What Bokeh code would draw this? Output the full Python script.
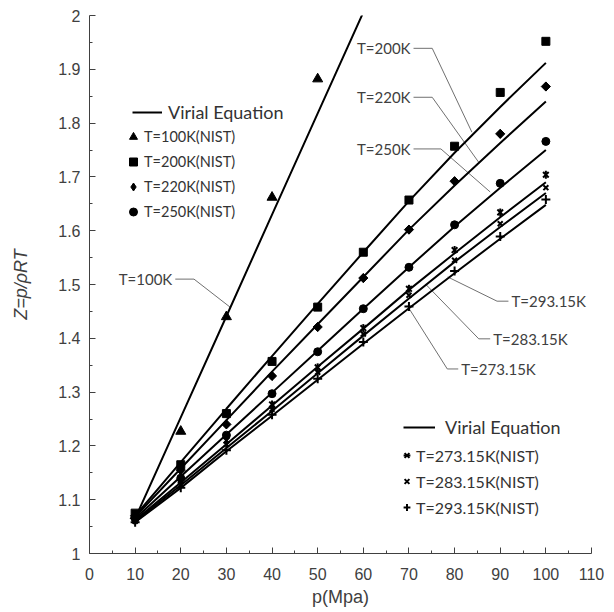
import math
from bokeh.plotting import figure
from bokeh.models import FixedTicker, Legend, LegendItem, Range1d, NumeralTickFormatter
from bokeh.core.properties import value
from bokeh.embed import file_html
from bokeh.resources import INLINE

# ---------------- data ----------------
pressure = [10, 20, 30, 40, 50, 60, 70, 80, 90, 100]
pressure_100 = [10, 20, 30, 40, 50]
pressure_100_line = [10, 20, 30, 40, 50, 60]

# NIST points
z_nist_100 = [1.07, 1.227, 1.44, 1.662, 1.882]
z_nist_200 = [1.075, 1.165, 1.26, 1.357, 1.458, 1.56, 1.657, 1.757, 1.857, 1.952]
z_nist_220 = [1.07, 1.155, 1.24, 1.33, 1.421, 1.512, 1.602, 1.692, 1.78, 1.868]
z_nist_250 = [1.065, 1.14, 1.22, 1.297, 1.375, 1.455, 1.532, 1.611, 1.688, 1.766]
z_nist_273 = [1.062, 1.135, 1.21, 1.277, 1.346, 1.419, 1.492, 1.564, 1.634, 1.704]
z_nist_283 = [1.06, 1.128, 1.203, 1.268, 1.337, 1.408, 1.48, 1.545, 1.613, 1.68]
z_nist_293 = [1.058, 1.122, 1.192, 1.258, 1.325, 1.393, 1.459, 1.525, 1.589, 1.658]

# Virial equation curves
z_vir_100 = [1.065, 1.253, 1.441, 1.63, 1.818, 2.006]
z_vir_200 = [1.07, 1.17, 1.269, 1.367, 1.464, 1.56, 1.655, 1.745, 1.83, 1.912]
z_vir_220 = [1.068, 1.158, 1.248, 1.338, 1.426, 1.514, 1.602, 1.684, 1.763, 1.84]
z_vir_250 = [1.065, 1.143, 1.221, 1.299, 1.377, 1.455, 1.532, 1.608, 1.68, 1.75]
z_vir_273 = [1.062, 1.132, 1.203, 1.275, 1.347, 1.418, 1.49, 1.558, 1.625, 1.69]
z_vir_283 = [1.06, 1.127, 1.196, 1.265, 1.335, 1.405, 1.474, 1.542, 1.607, 1.67]
z_vir_293 = [1.058, 1.122, 1.19, 1.256, 1.323, 1.39, 1.456, 1.521, 1.585, 1.648]

# axis ticks
x_ticks = [0, 10, 20, 30, 40, 50, 60, 70, 80, 90, 100, 110]
x_minor = [5, 15, 25, 35, 45, 55, 65, 75, 85, 95, 105]
y_ticks = [1.0, 1.1, 1.2, 1.3, 1.4, 1.5, 1.6, 1.7, 1.8, 1.9, 2.0]
y_minor = [1.05, 1.15, 1.25, 1.35, 1.45, 1.55, 1.65, 1.75, 1.85, 1.95]

# callout labels (text, anchor x, anchor y) and leader polylines
left_labels = ["T=100K", "T=200K", "T=220K", "T=250K"]
left_label_x = [18.8, 71.0, 71.0, 71.0]
left_label_y = [1.51, 1.939, 1.848, 1.752]
right_labels = ["T=293.15K", "T=283.15K", "T=273.15K"]
right_label_x = [91.8, 87.8, 80.8]
right_label_y = [1.469, 1.399, 1.343]
leader_xs = [[18.8, 22.9, 30.8], [71.0, 75.1, 83.8], [71.0, 75.1, 85.3], [71.0, 77.0, 87.8],
             [78.5, 89.3, 91.8], [73.6, 85.3, 87.8], [69.6, 78.4, 80.8]]
leader_ys = [[1.51, 1.51, 1.458], [1.939, 1.939, 1.783], [1.848, 1.848, 1.727], [1.752, 1.752, 1.672],
             [1.514, 1.469, 1.469], [1.501, 1.399, 1.399], [1.461, 1.343, 1.343]]

# ---------------- figure ----------------
p = figure(width=614, height=612, output_backend="svg", toolbar_location=None,
           x_range=Range1d(0, 110), y_range=Range1d(1, 2),
           min_border_left=89, min_border_right=23, min_border_top=15, min_border_bottom=59)
p.outline_line_color = None
p.grid.visible = False
p.background_fill_color = "white"
p.border_fill_color = "white"

axis_col = "#404040"
p.xaxis.ticker = FixedTicker(ticks=x_ticks, minor_ticks=x_minor)
p.yaxis.ticker = FixedTicker(ticks=y_ticks, minor_ticks=y_minor)
p.yaxis.formatter = NumeralTickFormatter(format="0.[0]")
for ax in (p.xaxis[0], p.yaxis[0]):
    ax.axis_line_color = axis_col
    ax.axis_line_width = 1
    ax.major_tick_line_color = axis_col
    ax.minor_tick_line_color = axis_col
    ax.major_tick_in = 6
    ax.major_tick_out = 0
    ax.minor_tick_in = 3
    ax.minor_tick_out = 0
    ax.major_label_text_font = "Liberation Sans"
    ax.major_label_text_font_size = "16px"
    ax.major_label_text_color = axis_col
    ax.axis_label_text_font = "Liberation Sans"
    ax.axis_label_text_font_size = "18px"
    ax.axis_label_text_color = axis_col
p.xaxis.axis_label = "p(Mpa)"
p.xaxis.axis_label_text_font_style = "normal"
p.xaxis.major_label_standoff = 14
p.xaxis.axis_label_standoff = 4
p.yaxis.axis_label = "Z=p/ρRT"
p.yaxis.axis_label_text_font_style = "italic"
p.yaxis.major_label_standoff = 9
p.yaxis.axis_label_standoff = 24

# leader lines & callouts
p.multi_line(xs=leader_xs, ys=leader_ys, line_color="#707070", line_width=1)
p.text(x=left_label_x, y=left_label_y, text=left_labels, text_align="right", text_baseline="middle",
       x_offset=-3, text_font=value("Lato"), text_font_size="15px", text_color="#404040")
p.text(x=right_label_x, y=right_label_y, text=right_labels, text_align="left", text_baseline="middle",
       x_offset=3, text_font=value("Lato"), text_font_size="15px", text_color="#404040")

# virial lines
lw = 2
r_v100 = p.line(pressure_100_line, z_vir_100, line_color="black", line_width=lw)
r_v200 = p.line(pressure, z_vir_200, line_color="black", line_width=lw)
p.line(pressure, z_vir_220, line_color="black", line_width=lw)
p.line(pressure, z_vir_250, line_color="black", line_width=lw)
r_v273 = p.line(pressure, z_vir_273, line_color="black", line_width=lw)
p.line(pressure, z_vir_283, line_color="black", line_width=lw)
p.line(pressure, z_vir_293, line_color="black", line_width=lw)

# NIST markers
r100 = p.scatter(pressure_100, z_nist_100, marker="triangle", size=10, color="black")
r200 = p.scatter(pressure, z_nist_200, marker="square", size=8, color="black")
r220 = p.scatter(pressure, z_nist_220, marker="square", angle=math.pi / 4, size=6.5, color="black")
# diamond drawn inside the rotated squares: supplies the legend swatch (legend ignores angle)
r220_key = p.scatter(pressure, z_nist_220, marker="diamond", size=8.5, color="black")
r250 = p.scatter(pressure, z_nist_250, marker="circle", size=8, color="black")
r273a = p.scatter(pressure, z_nist_273, marker="x", size=8, line_color="black", line_width=2)
r273b = p.scatter(pressure, z_nist_273, marker="dash", angle=math.pi / 2, size=8, line_color="black", line_width=2)
r283 = p.scatter(pressure, z_nist_283, marker="x", size=7, line_color="black", line_width=2)
r293 = p.scatter(pressure, z_nist_293, marker="cross", size=9, line_color="black", line_width=2)


def mk_legend(items, loc, glyph_w, row_h, standoff, font_size):
    lg = Legend(items=items, location=loc, orientation="vertical",
                glyph_width=glyph_w, glyph_height=row_h, label_height=row_h,
                label_standoff=standoff, padding=0, margin=0, spacing=0,
                background_fill_alpha=0, border_line_color=None,
                label_text_font="Lato", label_text_font_size=font_size,
                label_text_color="#333333")
    p.add_layout(lg)
    return lg


mk_legend([LegendItem(label="Virial Equation", renderers=[r_v200])], (43, 429), 30, 24, 6, "18px")
mk_legend([LegendItem(label="T=100K(NIST)", renderers=[r100]),
           LegendItem(label="T=200K(NIST)", renderers=[r200]),
           LegendItem(label="T=220K(NIST)", renderers=[r220_key]),
           LegendItem(label="T=250K(NIST)", renderers=[r250])], (34, 329), 20, 25, 1, "14.5px")
mk_legend([LegendItem(label="Virial Equation", renderers=[r_v273])], (314, 114), 32, 24, 10, "18px")
mk_legend([LegendItem(label="T=273.15K(NIST)", renderers=[r273a, r273b]),
           LegendItem(label="T=283.15K(NIST)", renderers=[r283]),
           LegendItem(label="T=293.15K(NIST)", renderers=[r293])], (309, 33), 17, 26, 1, "16px")

open("out.html", "w").write(file_html(p, INLINE))
